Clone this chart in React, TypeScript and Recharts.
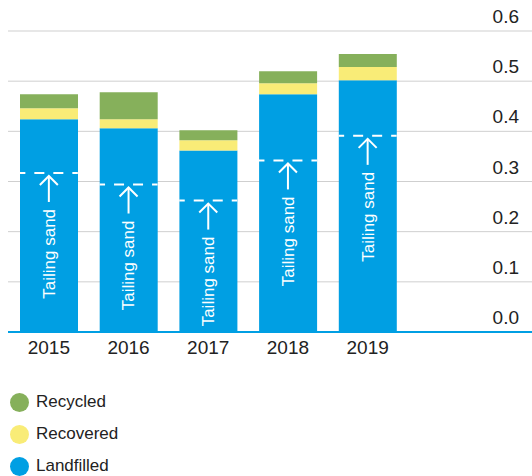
import { ComposedChart, Bar, Line, XAxis, YAxis, CartesianGrid } from 'recharts';

const years = ['2015', '2016', '2017', '2018', '2019'];
const landfilled = [0.424, 0.406, 0.362, 0.474, 0.502];
const recovered = [0.022, 0.018, 0.02, 0.022, 0.026];
const recycled = [0.028, 0.054, 0.02, 0.024, 0.026];
const tailingSand = [0.317, 0.294, 0.262, 0.342, 0.391];
const yTicks = [0, 0.1, 0.2, 0.3, 0.4, 0.5, 0.6];

const seriesInfo = [
    { key: 'recycled', name: 'Recycled', color: '#86b05b' },
    { key: 'recovered', name: 'Recovered', color: '#f9ec77' },
    { key: 'landfilled', name: 'Landfilled', color: '#009fe3' },
];

const data = years.map((year, i) => ({
    year,
    landfilled: landfilled[i],
    recovered: recovered[i],
    recycled: recycled[i],
    tailing: tailingSand[i],
}));

const FONT = '"Liberation Sans", Arial, sans-serif';
const BAR = 58;
const W = 524;

const YTick = (props: any) => {
    const { y, payload } = props;
    return (
        <text x={W - 13} y={y - 8} textAnchor="end" fontSize={19} fill="#222" fontFamily={FONT}>
            {Number(payload.value).toFixed(1)}
        </text>
    );
};

// dashed line + arrow + rotated label for the tailing sand share
const TailingMarker = (props: any) => {
    const { cx, cy, index } = props;
    if (cx == null || cy == null) return <g key={index} />;
    const half = BAR / 2;
    return (
        <g key={index}>
            <line x1={cx - half} x2={cx + half} y1={cy} y2={cy} stroke="#fff" strokeWidth={2}
                strokeDasharray="10 9" strokeDashoffset={4.5} />
            <line x1={cx} x2={cx} y1={cy + 3} y2={cy + 29} stroke="#fff" strokeWidth={2} />
            <polyline points={`${cx - 9},${cy + 12} ${cx},${cy + 3} ${cx + 9},${cy + 12}`}
                fill="none" stroke="#fff" strokeWidth={2} />
            <text x={cx} y={cy + 36} transform={`rotate(-90 ${cx} ${cy + 36})`} textAnchor="end"
                dy="0.35em" fontSize={17} fill="#fff" fontFamily={FONT}>
                Tailing sand
            </text>
        </g>
    );
};

export default function App() {
    return (
        <div style={{ width: 532, height: 476, boxSizing: 'border-box', padding: '0 0 0 8px',
            overflow: 'hidden', fontFamily: FONT }}>
            <style>{'html,body{margin:0;padding:0;overflow:hidden;}'}</style>
            <ComposedChart width={W} height={368} data={data}
                margin={{ top: 31, right: 0, left: 0, bottom: 0 }}>
                <CartesianGrid vertical={false} stroke="#cfcfcf" strokeWidth={1} />
                <XAxis dataKey="year" padding={{ left: 1, right: 124.5 }} height={36}
                    axisLine={{ stroke: '#009fe3', strokeWidth: 2 }} tickLine={false} tickMargin={3}
                    tick={{ fontSize: 19, fill: '#222', fontFamily: FONT }} />
                <YAxis orientation="right" mirror width={1} domain={[0, 0.6]} ticks={yTicks}
                    axisLine={false} tickLine={false} tick={YTick} />
                <Bar dataKey="landfilled" stackId="a" fill="#009fe3" barSize={BAR} isAnimationActive={false} />
                <Bar dataKey="recovered" stackId="a" fill="#f9ec77" barSize={BAR} isAnimationActive={false} />
                <Bar dataKey="recycled" stackId="a" fill="#86b05b" barSize={BAR} isAnimationActive={false} />
                <Line dataKey="tailing" stroke="none" dot={TailingMarker} activeDot={false}
                    isAnimationActive={false} />
            </ComposedChart>
            <div style={{ paddingTop: 24 }}>
                {seriesInfo.map((s, i) => (
                    <div key={s.key} style={{ display: 'flex', alignItems: 'center', height: 20,
                        marginTop: i === 0 ? 0 : 12 }}>
                        <span style={{ width: 19, height: 19, borderRadius: '50%', background: s.color,
                            marginLeft: 2, marginRight: 7, display: 'inline-block' }} />
                        <span style={{ fontSize: 17, color: '#222', lineHeight: '20px' }}>{s.name}</span>
                    </div>
                ))}
            </div>
        </div>
    );
}
